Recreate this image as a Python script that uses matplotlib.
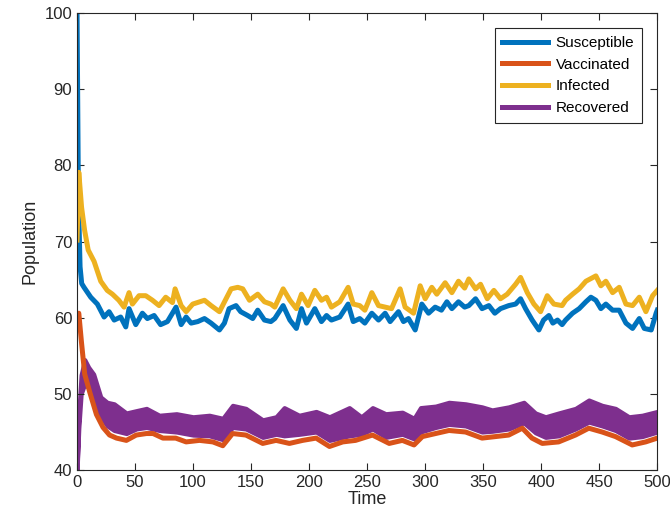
import matplotlib.pyplot as plt
from matplotlib.lines import Line2D

plt.rcParams['font.family'] = ['Liberation Sans', 'DejaVu Sans']

# values
sus_t = [0, 1.2, 2.6, 4, 6, 11.8, 17.5, 23.3, 27.6, 32, 37.6, 42, 44.8, 50.6, 56.3, 60.6,
         66.4, 72, 77.9, 82.2, 85.3, 89.7, 94, 98.3, 104, 109.8, 115.5, 122.7, 127, 131,
         137, 141, 147, 151.4, 155.7, 161.5, 167, 170.4, 177.6, 183.4, 189, 193.4, 197.7,
         204.9, 210.6, 215, 219.2, 226.4, 233.6, 238, 243.6, 248, 254, 259.8, 265.5, 269.8,
         277, 281.3, 285.6, 291.4, 297.1, 302.9, 308.6, 314, 318.7, 323, 328.7, 334, 337.6,
         343.4, 349, 354.9, 360, 364.9, 372, 377.9, 382.2, 386.5, 392.2, 398, 402, 406.6,
         410, 414, 418, 421, 427, 432.7, 438.5, 442.8, 447.1, 451.4, 455.7, 461.5, 467.2,
         473, 478.7, 484.5, 488.8, 494.8, 499, 500]
sus_v = [100, 75.5, 66.7, 64.5, 64.0, 62.7, 61.8, 60.1, 60.8, 59.7, 60.1, 58.8, 61.2, 59.1,
         60.6, 59.9, 60.3, 59.1, 59.5, 60.6, 61.4, 59.1, 60.1, 59.3, 59.5, 59.9, 59.3, 58.4,
         59.3, 61.2, 61.6, 60.8, 60.3, 59.9, 61.0, 59.7, 59.5, 59.9, 61.6, 59.7, 58.6, 61.2,
         59.3, 61.2, 59.5, 60.3, 59.7, 60.1, 61.8, 59.5, 59.9, 59.3, 60.6, 59.7, 60.6, 59.5,
         60.8, 59.5, 59.9, 58.4, 61.8, 60.6, 61.4, 61.0, 62.1, 61.2, 62.1, 61.4, 61.6, 62.5,
         61.2, 61.6, 60.6, 61.2, 61.6, 61.8, 62.5, 61.2, 59.7, 58.4, 59.7, 60.3, 59.3, 59.7,
         59.1, 59.7, 60.6, 61.2, 62.1, 62.7, 62.3, 61.2, 61.8, 61.0, 61.0, 59.3, 58.6, 59.9,
         58.6, 58.4, 60.6, 61.0]

inf_t = [0, 1.5, 3.9, 6.5, 9.6, 14.7, 20.4, 26, 30.5, 36, 40.5, 44.8, 47.7, 53.4, 59.2, 65,
         70.7, 76.4, 82.2, 84.5, 89.7, 94, 99.7, 109.8, 115.5, 122.7, 128.4, 132.8, 138.5,
         142.8, 148.6, 155.7, 161.5, 167, 170.4, 177.6, 183.4, 189, 193.4, 199.1, 204.9,
         210.6, 215, 219.2, 226.4, 233.6, 238, 243.6, 248, 251, 254, 259.8, 265.5, 271,
         278.4, 282.7, 290, 295.7, 300, 305.7, 310, 317.2, 323, 328.7, 334, 337.6, 343.4,
         347.7, 353.5, 359.2, 364.9, 370.7, 377.9, 382.2, 388, 393.7, 399.4, 405.2, 410.9,
         418, 421, 427, 432.7, 438.5, 447.1, 451.4, 455.7, 461.5, 467.2, 473, 478.7, 484.5,
         490.2, 496, 500]
inf_v = [70.2, 79.1, 74.5, 71.5, 68.9, 67.4, 64.8, 63.6, 63.1, 62.3, 61.4, 63.3, 61.8, 62.9,
         62.9, 62.3, 61.6, 62.7, 62.0, 63.8, 61.6, 60.8, 61.8, 62.3, 61.6, 60.8, 62.5, 63.8,
         64.0, 63.8, 62.3, 63.1, 62.1, 61.8, 61.4, 63.8, 62.3, 61.2, 63.1, 61.6, 63.6, 62.3,
         62.7, 61.4, 62.1, 64.0, 61.8, 61.6, 61.0, 62.1, 63.3, 61.6, 61.4, 61.2, 63.8, 61.4,
         60.6, 64.2, 62.5, 64.0, 63.1, 64.6, 63.3, 64.8, 63.9, 65.1, 63.8, 64.4, 62.5, 63.6,
         62.5, 63.1, 64.4, 65.3, 63.3, 61.8, 60.8, 62.9, 61.8, 61.6, 62.3, 63.1, 63.8, 64.8,
         65.5, 64.2, 64.8, 63.3, 64.0, 61.8, 61.6, 62.7, 60.8, 62.9, 63.6]

vac_t = [0, 1.5, 3.8, 6.6, 11, 16.7, 22.4, 28, 34, 42.5, 51, 59.8, 65.5, 74, 85, 94, 105.5,
         117, 125.6, 134, 145.5, 160, 171.5, 183, 194.4, 206, 217.5, 229, 240, 254.6, 269,
         280.3, 290.4, 297.6, 309, 320.5, 334.8, 349, 360.6, 372, 383.7, 392, 400.9, 415,
         429.5, 441, 452.5, 464, 478.4, 490, 500]
vac_v = [60.0, 60.6, 56.8, 52.6, 50.2, 47.3, 45.6, 44.6, 44.2, 43.9, 44.6, 44.8, 44.8, 44.2,
         44.2, 43.7, 43.9, 43.7, 43.2, 44.8, 44.6, 43.5, 43.9, 43.5, 43.9, 44.2, 43.1, 43.7,
         43.9, 44.6, 43.5, 43.9, 43.3, 44.4, 44.8, 45.2, 45.0, 44.2, 44.4, 44.6, 45.5, 44.2,
         43.5, 43.7, 44.6, 45.5, 45.0, 44.4, 43.3, 43.7, 44.2]

# recovered oscillates fast, so it shows as a band: upper / lower envelope
rec_t = [0, 1.5, 3.5, 6.6, 10, 14.3, 20.4, 26, 32, 42.5, 51, 59.8, 71, 85.7, 100, 114,
         125.6, 134, 145.5, 160, 171.5, 178.5, 191.4, 206, 217.5, 234.6, 245, 254.6, 266,
         280.3, 290.4, 296, 309, 320.5, 334.8, 349, 357.7, 372, 385, 395, 403.7, 415, 429.5,
         441, 452.5, 464, 475.6, 487, 500]
rec_hi = [40.0, 47.5, 52.5, 54.5, 53.5, 52.6, 49.6, 48.9, 48.7, 47.5, 47.8, 48.1, 47.2, 47.4,
          47.0, 47.2, 46.8, 48.5, 48.1, 46.6, 47.0, 48.2, 47.2, 47.7, 47.0, 48.2, 47.0, 48.2,
          47.4, 47.6, 46.8, 48.2, 48.4, 48.9, 48.7, 48.3, 47.9, 48.3, 48.9, 47.5, 47.0, 47.5,
          48.1, 49.2, 48.5, 48.1, 47.0, 47.2, 47.7]
rec_lo = [40.0, 45.5, 50.0, 51.3, 50.8, 49.0, 47.0, 45.8, 45.2, 44.8, 45.4, 45.6, 45.2, 45.0,
          44.6, 44.5, 44.0, 45.6, 45.4, 44.3, 44.7, 44.5, 44.7, 45.0, 43.9, 44.5, 44.7, 45.4,
          44.3, 44.7, 44.1, 45.0, 45.6, 46.0, 45.8, 45.0, 45.1, 45.4, 46.2, 44.9, 44.3, 44.5,
          45.4, 46.3, 45.8, 45.2, 44.2, 44.4, 45.0]

colors = ['#0072BD', '#D95319', '#EDB120', '#7E2F8E']
labels = ['Susceptible', 'Vaccinated', 'Infected', 'Recovered']

fig = plt.figure(figsize=(6.7, 5.27), dpi=100)
ax = fig.add_axes([0.115, 0.108, 0.866, 0.867])

ax.plot(sus_t, sus_v, color=colors[0], lw=3.6)
ax.plot(vac_t, vac_v, color=colors[1], lw=3.6)
ax.plot(inf_t, inf_v, color=colors[2], lw=3.6)
ax.fill_between(rec_t, rec_lo, rec_hi, color=colors[3], lw=3, edgecolor=colors[3])

ax.set_xlim(0, 500)
ax.set_ylim(40, 100)
ax.set_xticks(range(0, 501, 50))
ax.set_yticks(range(40, 101, 10))
ax.tick_params(direction='in', top=True, right=True, labelsize=12, colors='#262626',
               length=5, width=0.8)
for s in ax.spines.values():
    s.set_color('#262626')
    s.set_linewidth(0.8)
ax.set_xlabel('Time', fontsize=13, color='#262626', labelpad=1)
ax.set_ylabel('Population', fontsize=13, color='#262626', labelpad=4)

handles = [Line2D([], [], color=c, lw=3.6) for c in colors]
leg = ax.legend(handles, labels, loc='upper right', fontsize=11, fancybox=False,
                framealpha=1, edgecolor='#262626', handlelength=3.0,
                borderaxespad=1.0, labelspacing=0.5, handletextpad=0.5,
                borderpad=0.5)
leg.get_frame().set_linewidth(0.8)

plt.savefig('out.png', dpi=100)
